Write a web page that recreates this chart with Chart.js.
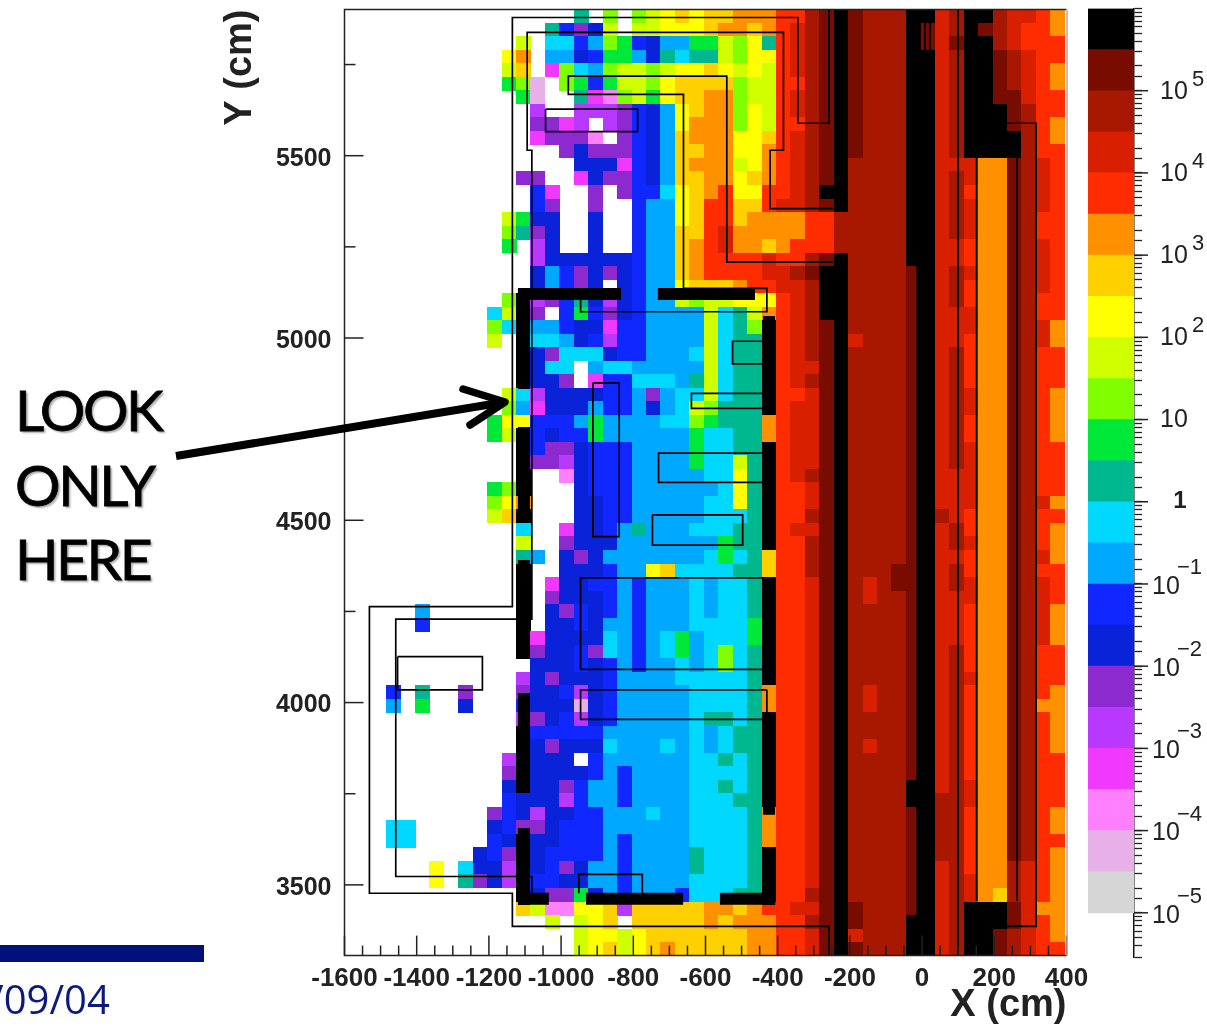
<!DOCTYPE html>
<html>
<head>
<meta charset="utf-8">
<title>Flux map</title>
<script src="https://cdn.jsdelivr.net/npm/chart.js@4"></script>
<style>
  html, body { margin: 0; width: 1207px; height: 1028px; overflow: hidden; background: #fff; }
  canvas, svg, .note { position: absolute; }
  #mapChart { left: 0; top: 0; }
  #barChart { left: 1080px; top: 0; }
  svg { left: 0; top: 0; }
  .note { left: 15px; font: 400 57px Lato, sans-serif; letter-spacing: -2.5px; color: #000;
          -webkit-text-stroke: 0.8px #000; text-shadow: 2px 2px 2px #aaa; line-height: 60px; }
  #footBar { position: absolute; left: 0; top: 945px; width: 204px; height: 17px; background: #00127a; }
  #footDate { position: absolute; left: -11px; top: 971px; font: 400 40px "Open Sans", sans-serif; color: #0a1a80; }
</style>
</head>
<body>
<canvas id="mapChart" width="1207" height="1028"></canvas>
<canvas id="barChart" width="127" height="1028"></canvas>
<svg width="1207" height="1028">
  <g fill="none" stroke="#000" stroke-width="7.5" stroke-linecap="round" stroke-linejoin="round">
    <path d="M176 456 L505 402" stroke-width="8" stroke-linecap="butt"/>
    <path d="M463 389 L505 402 L470 425"/>
  </g>
</svg>
<div class="note" style="top:379px">LOOK</div>
<div class="note" style="top:454px">ONLY</div>
<div class="note" style="top:528px">HERE</div>
<div id="footBar"></div>
<div id="footDate">/09/04</div>

<script>
// colour level per cell, one letter per level, "." = empty
const levelColors = {
  a: "#d6d6d6", b: "#e8b0e8", c: "#ff80ff", d: "#f038ff", e: "#b838ff", f: "#8c2ad0",
  g: "#0a22d8", h: "#1028ff", i: "#00a8ff", j: "#00d8ff", k: "#00b890", l: "#00e838",
  m: "#80ff00", n: "#d0ff00", o: "#ffff00", p: "#ffd000", q: "#ff9000", r: "#ff2c00",
  s: "#d82000", t: "#a81800", u: "#780c00", v: "#000000",
};
const levelOrder = "abcdefghijklmnopqrstuv";

// columns 0-10, only the rows that have something there
const farLeftCols = {
  22: "..........j", 23: "..........m", 24: "..........n",
  30: "..........l", 31: "..........l",
  35: "..........l", 36: "..........m", 37: "..........n",
  44: ".....i.....", 45: ".....h.....",
  50: "...h.k..f..", 51: "...i.l..g..",
  59: "..........f", 60: "...jj.....g", 61: "...jj.....h",
  62: ".........gh", 63: "......o.jgg", 64: "......o.kfg",
};

// columns 11-29, top row first
const midCols = [
  ".....k.m.mnopoppqqq", "...khfgn.nnooopqqpq", ".n.jjhimlhgiillnmok", "oq.iighlligkjkknmoo",
  "np.dmjimnnmnooponon", "lmb.mlhlnnmoppppmnn", ".lb..kdcmnloppqqmnn", "..e..eeefhgiopqqmon",
  "..ffde.efhgioqqqmon", "..dfffc.fhgipqqqoop", "....fgfffhgippqqooq", ".....gggdhgipqqqnoq",
  ".ff..dgffhgippqqopq", "..hd..f.fhhjopqroor", "..hf..f..hiioprrppr", "nlgg..g..hiioprrpqq",
  "mkfg..g..hiipprsqqq", "l.eg..g..hiipqrsqqp", "..egggggghiipqrrrrs", "..gihfgfghiipqrrrrs",
  "..gihfg.ghiiopppqrr", "mvefhkgeghiinmnnooo", "nvf.hlhfghiiiinjknq", "jviihggdhhiiiinjkmv",
  ".vjjighehhiiiinjkkv", ".vgfjjjghhiiijnjkkv", ".vgjj.ijjiiiiinjkkv", ".vggf.dhhjjjiknjkkv",
  "njegggghhifijjnjkkv", "midgggihhigijnmkkkv", "oohhhiliiiijjmlkkkq", "nvhghhliiiiiiljjkkq",
  ".vhffghhhiiiiljjkkv", ".vffeghhhiiiiljjnkv", ".v..cghhhiiiiijjokv", "mv...ghhhiiiiiijokv",
  "oq...gghhiiiiijjokv", "pv...gghhiiiiijjjkv", ".j..dgghikiiijjjkkv", ".n..fgggiiiiiiilkkv",
  ".ki.gfgiiiiiiijljkp", ".v..ggghiiopjjjjkkp", ".v.dgghhihiiijijjkv", ".v.fggghihiiijijjkv",
  ".v.gfhghihiiijijjkv", ".v.gghgiihiiijjjjlv", ".vdggggjihijlijjjlv", ".vfgghfjihijlijmjkv",
  "..ggghghihiijijmjkv", ".egfggghiiiijjjjjkv", ".fggheghiiiiijjjjkq", ".hgggbghiiiiijjjjkq",
  ".efgheghiiiiijkkjkv", ".vhhhhhiiiiiijijkkv", ".vgfgggjiiijijijkkv", "evggg.hiiiiiijjkjkv",
  "fvgggghihiiiijjjjkv", "gvggfhiihiiiijjkjkv", "hgggehiihiiiijjjkkv", "hgegghhiiijiijjjjkq",
  "hffghhhiiiiiijjjjkq", "gvgghhhihiiiijjjjkq", "fvghhhhihiiiikjjjkv", "evghfgiihiiiikjjjkv",
  "evhhggiihiiiijjjjkv", ".vgfflgihiiihjjjkkv", ".pnccoopepppppqqpqr", "...n.nop.pppppqpqqq",
  ".....noonopppppppqq", ".....nopnopqpppppqq",
];

// columns 30-49, top row first
const rightCols = [
  "rrtuvutttvvstvvtssrq", "rstuvutttvustvutsrrq", "rstuvutttvusuvvtsrrr", "rstuvutttvvstvvutsrr",
  "rstuvutttvvstvvutsrq", "rrtuvutttvvstvvutsrq", "rstuvutttvvstvvuusrr", "rstuvutttvvstvvvutrr",
  "rrtuvutttvvstvvvutrq", "rstuvutttvvstvvvvtrq", "rstuvutttvvstvvvvtrr", "rstuvttttvvsssqqutsr",
  "rstuvttttvvstsqqutsr", "rstvvttttvvstrqqutsr", "sstuvttttvvstsqqutsr", "qqrrtttttvvstsqqutrr",
  "qqrrtttttvvstsqqutrr", "qrrrtttttvvssrqqutsr", "rrtuvttttvvssrqqutsr", "stuvvttttuvstsqqutsr",
  "sstvvttttuvstrqqutsr", "rstvvttttuvstrqqutrr", "rstvvttttuvsssqqutrr", "rstuvttttuvsssqqutsq",
  "rstuvstttuvssrqqutsq", "rstuvttttuvstrqqutrr", "rssuvttttuvstrqqutrr", "rstuvttttuvstrqqutrr",
  "rrsuvttttuvstsqqutrq", "rssuvttttuvstsqqutrq", "rssuvttttuvstrqqutrq", "rssuvttttuvstrqqutrq",
  "rssuvttttuvstsqqutrr", "rssuvttttuvstsqqutrr", "rstuvttttuvsssqqutrr", "rrsuvttttuvsssqqutrr",
  "rrsuvttttuvsssqqutsq", "rrtuvttttuvtsrqqutrr", "rssuvttttuvstrqqutrq", "rrtuvttttuvstsqqutrq",
  "rrtuvttttuvssrqqutsq", "rrtuvtttuuvstrqqutrr", "rrsuvtstuuvstsqqutsr", "rrsuvtsttuvsssqqutsr",
  "rrsuvttttuvssrqqutsq", "rrsuvttttuvssrqqutsq", "rrsuvttttuvssrqqutsq", "rrsuvttttuvstrqqutrr",
  "rrsuvttttuvstrqqutrr", "rrsuvttttuvstsqqutrr", "rrsuvtsttuvstrqqutrq", "rrsuvtsttuvstrqqutqq",
  "rrsuvttttuvstrqqutrq", "rrsuvttttuvstrqqutrq", "rrsuvtsttuvstrqqutrq", "rrsuvttttuvstrqqutrr",
  "rrsuvttttuvstrqqutrr", "rrsuvttttvvstsqqutrr", "rrsuvttttvvttsqqutrr", "rrsuvttttuvttrqqutrq",
  "rrsuvttttuvttrqqutrq", "rrsuvttttuvttrqqutrr", "rrsuvttttuvttrqqutrq", "rrsuvttttuvstrqqtsrq",
  "rrsuvttttuvstsqqtsrq", "rrtuvttttuvstsqptsrq", "rssuvutttuvstvvvusqq", "rrtuvutttvvstvvvusrq",
  "rrsuvstttvvstvvutsrq", "rrsuvutttvvstvvutsrr",
];

// detector outlines in cm
const outerOutline = [[-258,5901],[-258,5589],[-344,5589],[-344,5879],[-1135,5879],[-1135,4263],[-1531,4263],[-1531,3477],[-1135,3477],[-1135,3386],[-258,3386],[-258,3306]];
const innerOutline = [[-247,5355],[-421,5355],[-421,5515],[-384,5515],[-384,5838],[-1094,5838],[-1094,5515],[-1081,5515],[-1081,4229],[-1458,4229],[-1458,3523],[-1081,3523],[-1081,3477]];
const upperOutline = [[-247,5208],[-541,5208],[-541,5718],[-980,5718],[-980,5668],[-661,5668],[-661,5136],[-430,5136],[-430,5072],[-946,5072],[-946,5115]];
const boxes = [
  [[-1043,5628],[-788,5628],[-788,5566],[-1043,5566],[-1043,5628]],
  [[-441,4991],[-525,4991],[-525,4929],[-441,4929]],
  [[-912,4877],[-839,4877],[-839,4455],[-912,4455],[-912,4877]],
  [[-441,4848],[-639,4848],[-639,4807],[-441,4807]],
  [[-441,4684],[-730,4684],[-730,4604],[-441,4604]],
  [[-747,4515],[-497,4515],[-497,4432],[-747,4432],[-747,4515]],
  [[-429,4342],[-946,4342],[-946,4091],[-441,4091]],
  [[-430,4035],[-946,4035],[-946,3954],[-430,3954],[-430,4035]],
  [[-951,3477],[-951,3529],[-775,3529],[-775,3477]],
  [[-1453,4126],[-1218,4126],[-1218,4035],[-1453,4035],[-1453,4126]],
  [[100,5901],[100,3306]],
  [[151,5494],[151,3456]],
  [[263,5494],[263,3456]],
  [[234,5589],[316,5589],[316,3386],[193,3386]],
  [[-6,5866],[-6,5790]], [[8,5866],[8,5790]], [[22,5866],[22,5790]],
];
// thick black pieces around the "look here" region
const thickPieces = [
  [[-1103,5137],[-1103,4860]], [[-1103,4756],[-1103,4493]], [[-1103,4391],[-1103,4126]],
  [[-1103,4026],[-1103,3758]], [[-1103,3656],[-1103,3445]],
  [[-1103,5121],[-834,5121]], [[-732,5121],[-463,5121]],
  [[-424,5060],[-424,4794]], [[-424,4693],[-424,4428]], [[-424,4325],[-424,4059]],
  [[-424,3961],[-424,3692]], [[-424,3591],[-424,3445]],
  [[-1119,3462],[-1034,3462]], [[-931,3462],[-662,3462]], [[-560,3462],[-407,3462]],
];
// the black band near x = 0 is a bit wider than its cells
const bandEdge = [[-9,5198],[-9,3306]];

const xTickValues = [-1600,-1400,-1200,-1000,-800,-600,-400,-200,0,200,400];
const xMinorTicks = [-1550,-1500,-1450,-1350,-1300,-1250,-1150,-1100,-1050,-950,-900,-850,-750,-700,-650,-550,-500,-450,-350,-300,-250,-150,-100,-50,50,100,150,250,300,350];
const yTickValues = [3500,4000,4500,5000,5500];
const yMinorTicks = [3750,4250,4750,5250,5750];

// colour bar
const barEdges = [1e-5,3.16e-5,1e-4,3.16e-4,1e-3,3.16e-3,1e-2,3.16e-2,1e-1,3.16e-1,1,3.16,10,31.6,100,316,1e3,3.16e3,1e4,3.16e4,1e5,3.16e5,1e6];
const barDecades = [1e5,1e4,1e3,100,10,1,0.1,0.01,1e-3,1e-4,1e-5];
const barExponents = ["5","4","3","2","","","\u22121","\u22122","\u22123","\u22124","\u22125"];

const cellW = 40;
const cellH = 37.08;
const gridLeft = -1604;
const gridTop = 5901;
const axisFont = '"Liberation Sans", sans-serif';

// a little canvas per level, used as point style so each cell stays a chart point
const levelStyle = {};
for (const key of levelOrder) {
  const c = document.createElement("canvas");
  c.width = 15;
  c.height = 14;
  const g = c.getContext("2d");
  g.fillStyle = levelColors[key];
  g.fillRect(0, 0, 15, 14);
  levelStyle[key] = c;
}

const cells = [];
midCols.forEach((mid, r) => {
  const row = (farLeftCols[r] || "...........") + mid + rightCols[r];
  [...row].forEach((lv, c) => {
    if (lv === ".") return;
    cells.push({ x: gridLeft + (c + 0.5) * cellW, y: gridTop - (r + 0.5) * cellH, lv: lv });
  });
});

const toPoints = (pts) => pts.map((p) => ({ x: p[0], y: p[1] }));
const lineSet = (pts, width, order) => ({
  data: toPoints(pts),
  showLine: true,
  pointRadius: 0,
  borderColor: "#000",
  borderWidth: width,
  borderCapStyle: "butt",
  order: order,
});

// inward ticks and the box, the axes only give outward ones of one length
const mapFrame = {
  id: "mapFrame",
  afterDraw(chart) {
    const { ctx, chartArea: a, scales } = chart;
    ctx.save();
    ctx.strokeStyle = "#222";
    ctx.lineWidth = 1.5;
    const vTick = (v, len) => {
      const x = scales.x.getPixelForValue(v);
      ctx.beginPath(); ctx.moveTo(x, a.bottom); ctx.lineTo(x, a.bottom - len); ctx.stroke();
    };
    const hTick = (v, len) => {
      const y = scales.y.getPixelForValue(v);
      ctx.beginPath(); ctx.moveTo(a.left, y); ctx.lineTo(a.left + len, y); ctx.stroke();
    };
    xTickValues.forEach((v) => vTick(v, 20));
    xMinorTicks.forEach((v) => vTick(v, 10));
    yTickValues.forEach((v) => hTick(v, 19));
    yMinorTicks.forEach((v) => hTick(v, 11));
    ctx.beginPath();
    ctx.moveTo(a.right, a.top); ctx.lineTo(a.left, a.top); ctx.lineTo(a.left, a.bottom); ctx.lineTo(a.right, a.bottom);
    ctx.stroke();
    ctx.strokeStyle = "#aaa";
    ctx.beginPath(); ctx.moveTo(a.right + 0.5, a.top); ctx.lineTo(a.right + 0.5, a.bottom); ctx.stroke();
    ctx.restore();
  },
};

const datasets = [
  {
    data: cells,
    pointRadius: 8,
    pointStyle: (c) => (c.raw ? levelStyle[c.raw.lv] : "rect"),
    order: 10,
  },
  lineSet(outerOutline, 1.7, 5),
  lineSet(innerOutline, 1.7, 5),
  lineSet(upperOutline, 1.7, 5),
  lineSet(bandEdge, 5, 6),
];
boxes.forEach((b) => datasets.push(lineSet(b, 1.7, 5)));
thickPieces.forEach((b) => datasets.push(lineSet(b, 12, 1)));

new Chart(document.getElementById("mapChart"), {
  type: "scatter",
  data: { datasets },
  plugins: [mapFrame],
  options: {
    responsive: false,
    animation: false,
    events: [],
    layout: { padding: { left: 218, top: 9.5, right: 140.5, bottom: 0 } },
    plugins: { legend: { display: false }, tooltip: { enabled: false } },
    scales: {
      x: {
        type: "linear",
        min: -1600,
        max: 400,
        afterBuildTicks: (s) => { s.ticks = xTickValues.map((v) => ({ value: v })); },
        afterFit: (s) => { s.height = 72.4; s.paddingLeft = 0; s.paddingRight = 0; },
        grid: { display: false },
        border: { display: false },
        ticks: {
          padding: 0,
          autoSkip: false,
          maxRotation: 0,
          color: "#222",
          callback: (v) => String(v),
          font: { family: axisFont, size: 26, weight: "bold" },
        },
        title: {
          display: true,
          text: "X (cm)",
          align: "end",
          padding: 0,
          color: "#222",
          font: { family: axisFont, size: 38, weight: "bold" },
        },
      },
      y: {
        type: "linear",
        min: 3306,
        max: 5901,
        afterBuildTicks: (s) => { s.ticks = yTickValues.map((v) => ({ value: v })); },
        afterFit: (s) => { s.width = 126.5; s.paddingTop = 0; s.paddingBottom = 0; },
        grid: { display: false },
        border: { display: false },
        ticks: {
          padding: 5,
          labelOffset: 3,
          autoSkip: false,
          color: "#222",
          callback: (v) => String(v),
          font: { family: axisFont, size: 25, weight: "bold" },
        },
        title: {
          display: true,
          text: "Y (cm)",
          align: "end",
          padding: 0,
          color: "#222",
          font: { family: axisFont, size: 38, weight: "bold" },
        },
      },
    },
  },
});

// long decade ticks and the 10^n labels
const barLabels = {
  id: "barLabels",
  afterDraw(chart) {
    const { ctx, chartArea: a, scales } = chart;
    ctx.save();
    ctx.fillStyle = "#222";
    ctx.strokeStyle = "#222";
    ctx.lineWidth = 1.5;
    ctx.textBaseline = "middle";
    barDecades.forEach((v, i) => {
      const y = scales.y.getPixelForValue(v);
      ctx.beginPath(); ctx.moveTo(a.right, y); ctx.lineTo(a.right + 14, y); ctx.stroke();
      const exp = barExponents[i];
      if (v === 1) {
        ctx.font = "bold 24px " + axisFont;
        ctx.textAlign = "center";
        ctx.fillText("1", a.right + 46, y);
        return;
      }
      const negative = v < 1;
      ctx.font = "25px " + axisFont;
      ctx.textAlign = "left";
      ctx.fillText("10", a.right + (negative ? 18 : 26), y + (negative ? 3 : 1));
      if (exp) {
        ctx.font = "22px " + axisFont;
        ctx.fillText(exp, a.right + (negative ? 43 : 58), y - (negative ? 16 : 11));
      }
    });
    ctx.restore();
  },
};

const barSets = [...levelOrder].map((key, i) => ({
  data: [[barEdges[i], barEdges[i + 1]]],
  backgroundColor: levelColors[key],
  barPercentage: 1,
  categoryPercentage: 1,
  grouped: false,
}));

new Chart(document.getElementById("barChart"), {
  type: "bar",
  data: { labels: [""], datasets: barSets },
  plugins: [barLabels],
  options: {
    responsive: false,
    animation: false,
    events: [],
    layout: { padding: { left: 8, top: 8.5, right: 0, bottom: 71 } },
    plugins: { legend: { display: false }, tooltip: { enabled: false } },
    scales: {
      x: { display: false },
      y: {
        type: "logarithmic",
        position: "right",
        min: 2.9e-6,
        max: 1e6,
        afterFit: (s) => { s.width = 73; s.paddingTop = 0; s.paddingBottom = 0; },
        grid: { drawOnChartArea: false, tickLength: 8, tickColor: "#222", tickWidth: 1.3 },
        border: { color: "#111", width: 1.5 },
        ticks: { display: false, autoSkip: false },
      },
    },
  },
});
</script>
</body>
</html>
